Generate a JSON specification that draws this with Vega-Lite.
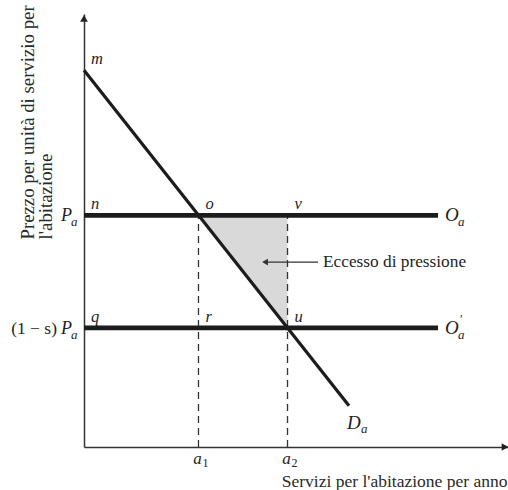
{
  "$schema": "https://vega.github.io/schema/vega-lite/v6.json",
  "width": 424,
  "height": 433,
  "autosize": {"type": "none"},
  "padding": {"left": 84, "top": 14, "right": 0, "bottom": 43},
  "background": "white",
  "config": {
    "view": {"stroke": null},
    "font": "Liberation Serif",
    "text": {"font": "Liberation Serif", "color": "#1e1e1e"}
  },
  "datasets": {
    "demand": [{"q": 0, "p": 87}, {"q": 62.5, "p": 9.5}],
    "supply": [
      {"q": 0, "q2": 83.5, "p": 53.5, "prime": ""},
      {"q": 0, "q2": 83.5, "p": 27.5, "prime": "′"}
    ],
    "excess": [
      {"q": 27, "p": 53.5, "p2": 53.5},
      {"q": 48, "p": 27.44, "p2": 53.5}
    ],
    "guides": [
      {"q": 27, "p": 53.5, "sub": "1"},
      {"q": 48, "p": 53.5, "sub": "2"}
    ],
    "points": [
      {"name": "m", "q": 0, "p": 87},
      {"name": "n", "q": 0, "p": 53.5},
      {"name": "o", "q": 27, "p": 53.5},
      {"name": "v", "q": 48, "p": 53.5},
      {"name": "q", "q": 0, "p": 27.5},
      {"name": "r", "q": 27, "p": 27.5},
      {"name": "u", "q": 48, "p": 27.5}
    ],
    "prices": [
      {"q": 0, "p": 53.5, "prefix": ""},
      {"q": 0, "p": 27.5, "prefix": "(1 − s)"}
    ],
    "axisEnds": [
      {"q": 0, "p": 99, "dir": "y"},
      {"q": 99.3, "p": 0, "dir": "x"}
    ],
    "annot": [{"q": 42.7, "q2": 55.2, "p": 42.7, "text": "Eccesso di pressione"}]
  },
  "encoding": {
    "x": {
      "field": "q",
      "type": "quantitative",
      "scale": {"domain": [0, 100], "nice": false, "zero": false},
      "axis": {
        "title": "Servizi per l'abitazione per anno",
        "orient": "bottom",
        "domain": true,
        "domainColor": "#333333",
        "domainWidth": 1.5,
        "ticks": false,
        "labels": false,
        "grid": false,
        "titleFont": "Liberation Serif",
        "titleFontSize": 17.5,
        "titleFontWeight": "normal",
        "titleColor": "#2a2a2a",
        "titleAlign": "right",
        "titleAnchor": null,
        "titleX": 423,
        "titleY": 39,
        "titleBaseline": "alphabetic"
      }
    },
    "y": {
      "field": "p",
      "type": "quantitative",
      "scale": {"domain": [0, 100], "nice": false, "zero": false},
      "axis": {
        "title": ["Prezzo per unità di servizio per", "l'abitazione"],
        "orient": "left",
        "domain": true,
        "domainColor": "#333333",
        "domainWidth": 1.5,
        "ticks": false,
        "labels": false,
        "grid": false,
        "titleFont": "Liberation Serif",
        "titleFontSize": 18.8,
        "titleFontWeight": "normal",
        "titleColor": "#2a2a2a",
        "titleAngle": 270,
        "titleAlign": "left",
        "titleBaseline": "top",
        "titleLineHeight": 18,
        "titleX": -66,
        "titleY": 225
      }
    }
  },
  "layer": [
    {
      "data": {"name": "excess"},
      "mark": {"type": "area", "color": "#d9d9d9"},
      "encoding": {"y2": {"field": "p2"}}
    },
    {
      "data": {"name": "guides"},
      "mark": {"type": "rule", "color": "#333333", "strokeWidth": 1.3, "strokeDash": [7, 5]},
      "encoding": {"y": {"datum": 0}, "y2": {"field": "p"}}
    },
    {
      "data": {"name": "supply"},
      "mark": {"type": "rule", "color": "#1c1c1c", "strokeWidth": 4.8},
      "encoding": {"x2": {"field": "q2"}}
    },
    {
      "data": {"name": "demand"},
      "mark": {"type": "line", "color": "#1c1c1c", "strokeWidth": 3.2}
    },
    {
      "data": {"name": "axisEnds"},
      "transform": [{"filter": "datum.dir == 'y'"}],
      "mark": {"type": "point", "shape": "triangle-up", "size": 60, "filled": true, "color": "#222222", "opacity": 1}
    },
    {
      "data": {"name": "axisEnds"},
      "transform": [{"filter": "datum.dir == 'x'"}],
      "mark": {"type": "point", "shape": "triangle-right", "size": 60, "filled": true, "color": "#222222", "opacity": 1}
    },
    {
      "data": {"name": "annot"},
      "mark": {"type": "rule", "color": "#333333", "strokeWidth": 1.3},
      "encoding": {"x2": {"field": "q2"}}
    },
    {
      "data": {"name": "annot"},
      "mark": {"type": "point", "shape": "triangle-left", "size": 45, "filled": true, "color": "#333333", "opacity": 1}
    },
    {
      "data": {"name": "annot"},
      "mark": {"type": "text", "align": "left", "baseline": "middle", "dx": 5, "fontSize": 17.3},
      "encoding": {"x": {"field": "q2", "type": "quantitative"}, "text": {"field": "text"}}
    },
    {
      "data": {"name": "points"},
      "mark": {"type": "text", "align": "left", "baseline": "alphabetic", "dx": 7, "dy": -6, "fontSize": 16.5, "fontStyle": "italic"},
      "encoding": {"text": {"field": "name"}}
    },
    {
      "data": {"name": "supply"},
      "mark": {"type": "text", "align": "left", "baseline": "alphabetic", "dx": 7, "dy": 6, "fontSize": 19, "fontStyle": "italic"},
      "encoding": {"x": {"field": "q2", "type": "quantitative"}, "text": {"value": "O"}}
    },
    {
      "data": {"name": "supply"},
      "mark": {"type": "text", "align": "left", "baseline": "alphabetic", "dx": 20, "dy": 11, "fontSize": 13, "fontStyle": "italic"},
      "encoding": {"x": {"field": "q2", "type": "quantitative"}, "text": {"value": "a"}}
    },
    {
      "data": {"name": "supply"},
      "mark": {"type": "text", "align": "left", "baseline": "alphabetic", "dx": 22, "dy": -5, "fontSize": 12},
      "encoding": {"x": {"field": "q2", "type": "quantitative"}, "text": {"field": "prime"}}
    },
    {
      "data": {"name": "demand"},
      "transform": [{"filter": "datum.q > 0"}],
      "mark": {"type": "text", "align": "left", "baseline": "alphabetic", "dx": -2, "dy": 23, "fontSize": 19, "fontStyle": "italic"},
      "encoding": {"text": {"value": "D"}}
    },
    {
      "data": {"name": "demand"},
      "transform": [{"filter": "datum.q > 0"}],
      "mark": {"type": "text", "align": "left", "baseline": "alphabetic", "dx": 12, "dy": 27, "fontSize": 13, "fontStyle": "italic"},
      "encoding": {"text": {"value": "a"}}
    },
    {
      "data": {"name": "prices"},
      "mark": {"type": "text", "align": "right", "baseline": "alphabetic", "dx": -12, "dy": 6, "fontSize": 18, "fontStyle": "italic"},
      "encoding": {"text": {"value": "P"}}
    },
    {
      "data": {"name": "prices"},
      "mark": {"type": "text", "align": "left", "baseline": "alphabetic", "dx": -13, "dy": 11, "fontSize": 13, "fontStyle": "italic"},
      "encoding": {"text": {"value": "a"}}
    },
    {
      "data": {"name": "prices"},
      "mark": {"type": "text", "align": "right", "baseline": "alphabetic", "dx": -27, "dy": 6, "fontSize": 17.5},
      "encoding": {"text": {"field": "prefix"}}
    },
    {
      "data": {"name": "guides"},
      "mark": {"type": "text", "align": "center", "baseline": "alphabetic", "dx": -1, "dy": 17, "fontSize": 17, "fontStyle": "italic"},
      "encoding": {"y": {"datum": 0}, "text": {"value": "a"}}
    },
    {
      "data": {"name": "guides"},
      "mark": {"type": "text", "align": "left", "baseline": "alphabetic", "dx": 4, "dy": 20, "fontSize": 12},
      "encoding": {"y": {"datum": 0}, "text": {"field": "sub"}}
    }
  ]
}
